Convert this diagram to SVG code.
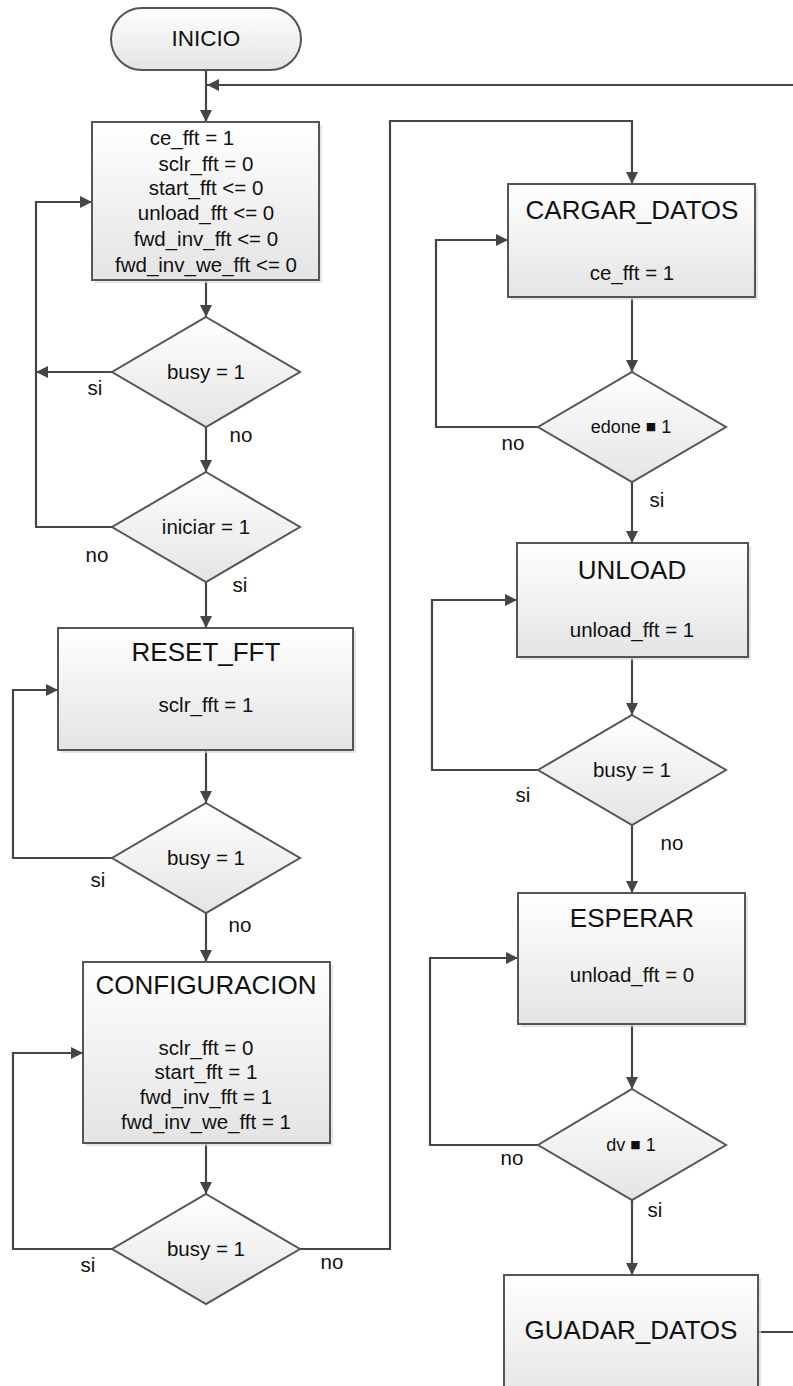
<svg xmlns="http://www.w3.org/2000/svg" width="793" height="1386" viewBox="0 0 793 1386">
  <defs>
    <linearGradient id="fillGrad" x1="0" y1="0" x2="0" y2="1">
      <stop offset="0" stop-color="#ffffff"/>
      <stop offset="1" stop-color="#e4e4e4"/>
    </linearGradient>
    <marker id="arrow" viewBox="0 0 12 12" refX="12" refY="6" markerWidth="12" markerHeight="12" markerUnits="userSpaceOnUse" orient="auto">
      <path d="M0,0 L12,6 L0,12 Z" fill="#454545"/>
    </marker>
  </defs>
  <style>
    .box { fill: url(#fillGrad); stroke: #555555; stroke-width: 2; }
    .shadow { fill: #d9d9d9; opacity: 0.7; }
    .term { fill: url(#fillGrad); stroke: #555555; stroke-width: 2; }
    .edge { fill: none; stroke: #454545; stroke-width: 2.2; }
    .arr { marker-end: url(#arrow); }
    text { font-family: "Liberation Sans", Arial, sans-serif; fill: #111111; text-anchor: middle; }
    .title { font-size: 26px; }
    .body { font-size: 20.5px; }
    .cond { font-size: 20.5px; }
    .small { font-size: 18px; }
    .sq { font-family: "DejaVu Sans", sans-serif; font-size: 11px; }
    .lbl { font-size: 20.5px; }
  </style>

  <rect width="793" height="1386" fill="#ffffff"/>

  <!-- connectors -->
  <g id="connectors">
    <path class="edge arr" d="M206,70 V122"/>
    <path class="edge arr" d="M793,85 H207"/>
    <path class="edge arr" d="M206,280 V317"/>
    <path class="edge arr" d="M112,372 H36"/>
    <path class="edge arr" d="M112,527 H36 V202 H92"/>
    <path class="edge arr" d="M206,427 V472"/>
    <path class="edge arr" d="M206,582 V628"/>
    <path class="edge arr" d="M206,750 V803"/>
    <path class="edge arr" d="M112,858 H13 V690 H58"/>
    <path class="edge arr" d="M206,913 V962"/>
    <path class="edge arr" d="M206,1143 V1194"/>
    <path class="edge arr" d="M112,1249 H13 V1053 H83"/>
    <path class="edge arr" d="M300,1249 H390 V121 H632 V184"/>
    <path class="edge arr" d="M632,297 V372"/>
    <path class="edge arr" d="M538,427 H436 V240 H508"/>
    <path class="edge arr" d="M632,482 V543"/>
    <path class="edge arr" d="M632,657 V715"/>
    <path class="edge arr" d="M538,770 H432 V600 H517"/>
    <path class="edge arr" d="M632,825 V893"/>
    <path class="edge arr" d="M632,1024 V1089"/>
    <path class="edge arr" d="M538,1145 H430 V958 H518"/>
    <path class="edge arr" d="M632,1200 V1275"/>
    <path class="edge" d="M758,1332 H793"/>
  </g>

  <!-- branch labels -->
  <g id="labels">
    <text class="lbl" x="95" y="395">si</text>
    <text class="lbl" x="241" y="442">no</text>
    <text class="lbl" x="97" y="562">no</text>
    <text class="lbl" x="240" y="592">si</text>
    <text class="lbl" x="98" y="887">si</text>
    <text class="lbl" x="240" y="932">no</text>
    <text class="lbl" x="88" y="1272">si</text>
    <text class="lbl" x="332" y="1269">no</text>
    <text class="lbl" x="513" y="450">no</text>
    <text class="lbl" x="657" y="507">si</text>
    <text class="lbl" x="523" y="802">si</text>
    <text class="lbl" x="672" y="850">no</text>
    <text class="lbl" x="512" y="1165">no</text>
    <text class="lbl" x="655" y="1217">si</text>
  </g>

  <g id="inicio">
    <rect class="term" x="111" y="8" width="190" height="62" rx="31" ry="31"/>
    <text style="font-size:22.5px" x="206" y="46">INICIO</text>
  </g>

  <g id="init-state">
    <rect class="shadow" x="95" y="125" width="227" height="158"/>
    <rect class="box" x="92" y="122" width="227" height="158"/>
    <text class="body" x="192" y="145">ce_fft = 1</text>
    <text class="body" x="206" y="171">sclr_fft = 0</text>
    <text class="body" x="206" y="195">start_fft &lt;= 0</text>
    <text class="body" x="206" y="220">unload_fft &lt;= 0</text>
    <text class="body" x="206" y="246">fwd_inv_fft &lt;= 0</text>
    <text class="body" x="206" y="272">fwd_inv_we_fft &lt;= 0</text>
  </g>

  <g id="dec-busy-1">
    <polygon class="box" points="206,317 300,372 206,427 112,372"/>
    <text class="cond" x="206" y="379">busy = 1</text>
  </g>

  <g id="dec-iniciar">
    <polygon class="box" points="206,472 300,527 206,582 112,527"/>
    <text class="cond" x="206" y="534">iniciar = 1</text>
  </g>

  <g id="reset-fft">
    <rect class="shadow" x="61" y="631" width="295" height="122"/>
    <rect class="box" x="58" y="628" width="295" height="122"/>
    <text class="title" x="206" y="661">RESET_FFT</text>
    <text class="body" x="206" y="712">sclr_fft = 1</text>
  </g>

  <g id="dec-busy-2">
    <polygon class="box" points="206,803 300,858 206,913 112,858"/>
    <text class="cond" x="206" y="865">busy = 1</text>
  </g>

  <g id="configuracion">
    <rect class="shadow" x="86" y="965" width="247" height="181"/>
    <rect class="box" x="83" y="962" width="247" height="181"/>
    <text class="title" x="206" y="994">CONFIGURACION</text>
    <text class="body" x="206" y="1055">sclr_fft = 0</text>
    <text class="body" x="206" y="1079">start_fft = 1</text>
    <text class="body" x="206" y="1104">fwd_inv_fft = 1</text>
    <text class="body" x="206" y="1129">fwd_inv_we_fft = 1</text>
  </g>

  <g id="dec-busy-3">
    <polygon class="box" points="206,1194 300,1249 206,1304 112,1249"/>
    <text class="cond" x="206" y="1256">busy = 1</text>
  </g>

  <g id="cargar-datos">
    <rect class="shadow" x="511" y="187" width="247" height="113"/>
    <rect class="box" x="508" y="184" width="247" height="113"/>
    <text class="title" x="632" y="219">CARGAR_DATOS</text>
    <text class="body" x="632" y="280">ce_fft = 1</text>
  </g>

  <g id="dec-edone">
    <polygon class="box" points="632,372 726,427 632,482 538,427"/>
    <text class="small" x="631" y="433">edone <tspan class="sq" dy="-3">■</tspan><tspan dy="3"> 1</tspan></text>
  </g>

  <g id="unload">
    <rect class="shadow" x="520" y="546" width="231" height="114"/>
    <rect class="box" x="517" y="543" width="231" height="114"/>
    <text class="title" x="632" y="579">UNLOAD</text>
    <text class="body" x="632" y="637">unload_fft = 1</text>
  </g>

  <g id="dec-busy-4">
    <polygon class="box" points="632,715 726,770 632,825 538,770"/>
    <text class="cond" x="632" y="777">busy = 1</text>
  </g>

  <g id="esperar">
    <rect class="shadow" x="521" y="896" width="227" height="131"/>
    <rect class="box" x="518" y="893" width="227" height="131"/>
    <text class="title" x="632" y="927">ESPERAR</text>
    <text class="body" x="632" y="982">unload_fft = 0</text>
  </g>

  <g id="dec-dv">
    <polygon class="box" points="632,1089 726,1145 632,1200 538,1145"/>
    <text class="small" x="631" y="1151">dv <tspan class="sq" dy="-3">■</tspan><tspan dy="3"> 1</tspan></text>
  </g>

  <g id="guardar-datos">
    <rect class="shadow" x="507" y="1278" width="254" height="130"/>
    <rect class="box" x="504" y="1275" width="254" height="130"/>
    <text class="title" x="631" y="1339">GUADAR_DATOS</text>
  </g>
</svg>
